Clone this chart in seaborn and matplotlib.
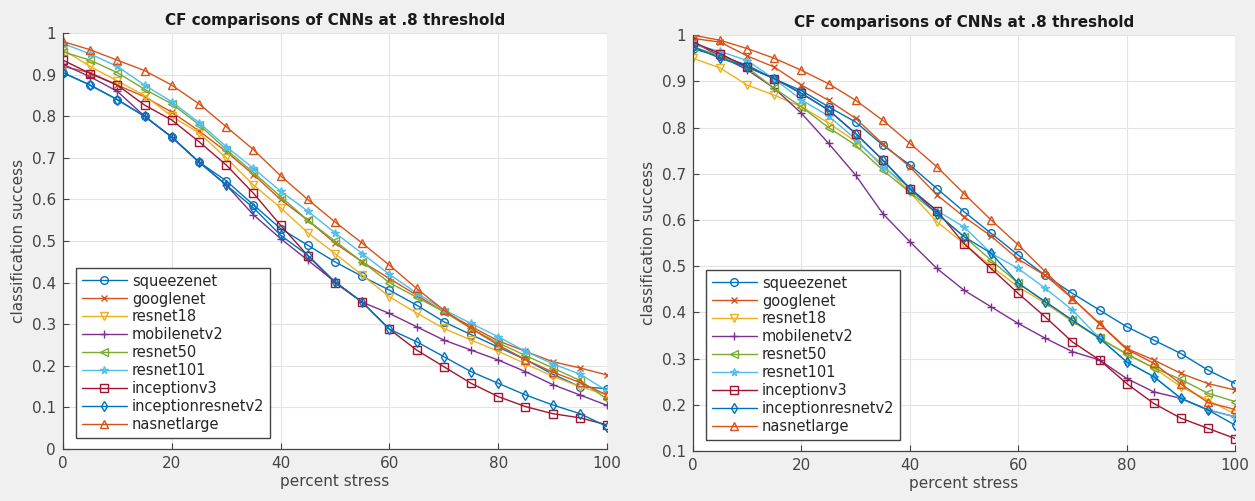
import numpy as np
import pandas as pd
import seaborn as sns
import matplotlib.pyplot as plt
from matplotlib.ticker import FuncFormatter

# percent stress values (x axis)
stress = [0, 5, 10, 15, 20, 25, 30, 35, 40, 45, 50, 55, 60, 65, 70, 75, 80, 85, 90, 95, 100]

nets = ["squeezenet", "googlenet", "resnet18", "mobilenetv2", "resnet50",
        "resnet101", "inceptionv3", "inceptionresnetv2", "nasnetlarge"]

# left panel - classification success
left_squeezenet = [0.905, 0.875, 0.84, 0.80, 0.75, 0.69, 0.645, 0.587, 0.53, 0.49, 0.45, 0.415, 0.382, 0.346, 0.306, 0.275, 0.245, 0.215, 0.18, 0.15, 0.145]
left_googlenet = [0.92, 0.905, 0.875, 0.847, 0.81, 0.765, 0.715, 0.66, 0.60, 0.55, 0.495, 0.45, 0.41, 0.37, 0.33, 0.295, 0.26, 0.235, 0.21, 0.195, 0.178]
left_resnet18 = [0.96, 0.92, 0.885, 0.85, 0.80, 0.76, 0.70, 0.635, 0.58, 0.52, 0.47, 0.418, 0.366, 0.327, 0.29, 0.262, 0.235, 0.205, 0.175, 0.15, 0.13]
left_mobilenetv2 = [0.925, 0.895, 0.86, 0.80, 0.75, 0.69, 0.635, 0.563, 0.506, 0.454, 0.402, 0.353, 0.326, 0.294, 0.262, 0.238, 0.214, 0.186, 0.155, 0.13, 0.105]
left_resnet50 = [0.955, 0.935, 0.905, 0.865, 0.83, 0.78, 0.72, 0.665, 0.607, 0.55, 0.50, 0.45, 0.40, 0.365, 0.33, 0.29, 0.255, 0.225, 0.195, 0.165, 0.12]
left_resnet101 = [0.975, 0.95, 0.92, 0.875, 0.835, 0.785, 0.727, 0.675, 0.62, 0.572, 0.52, 0.47, 0.42, 0.375, 0.335, 0.302, 0.27, 0.235, 0.205, 0.18, 0.14]
left_inceptionv3 = [0.935, 0.903, 0.875, 0.827, 0.791, 0.739, 0.683, 0.615, 0.538, 0.465, 0.40, 0.353, 0.288, 0.238, 0.198, 0.158, 0.126, 0.102, 0.085, 0.075, 0.058]
left_inceptionresnetv2 = [0.905, 0.875, 0.84, 0.80, 0.75, 0.69, 0.635, 0.58, 0.514, 0.466, 0.402, 0.353, 0.288, 0.258, 0.222, 0.186, 0.158, 0.13, 0.106, 0.085, 0.054]
left_nasnetlarge = [0.98, 0.96, 0.935, 0.91, 0.875, 0.83, 0.775, 0.72, 0.657, 0.60, 0.546, 0.495, 0.442, 0.386, 0.334, 0.29, 0.25, 0.215, 0.185, 0.16, 0.13]

# right panel - classification success
right_squeezenet = [0.97, 0.955, 0.935, 0.905, 0.88, 0.845, 0.812, 0.762, 0.719, 0.668, 0.618, 0.571, 0.524, 0.48, 0.441, 0.405, 0.369, 0.34, 0.311, 0.275, 0.246]
right_googlenet = [0.993, 0.985, 0.955, 0.931, 0.892, 0.859, 0.82, 0.765, 0.715, 0.654, 0.607, 0.565, 0.515, 0.48, 0.43, 0.376, 0.322, 0.297, 0.268, 0.246, 0.232]
right_resnet18 = [0.95, 0.929, 0.892, 0.87, 0.845, 0.81, 0.77, 0.72, 0.66, 0.596, 0.549, 0.50, 0.455, 0.42, 0.38, 0.344, 0.31, 0.28, 0.239, 0.21, 0.18]
right_mobilenetv2 = [0.985, 0.955, 0.925, 0.885, 0.831, 0.766, 0.697, 0.614, 0.553, 0.495, 0.448, 0.412, 0.376, 0.344, 0.315, 0.297, 0.257, 0.228, 0.214, 0.189, 0.174]
right_resnet50 = [0.975, 0.955, 0.93, 0.885, 0.845, 0.80, 0.762, 0.708, 0.66, 0.614, 0.564, 0.513, 0.463, 0.423, 0.383, 0.344, 0.31, 0.28, 0.255, 0.225, 0.207]
right_resnet101 = [0.98, 0.965, 0.945, 0.905, 0.86, 0.825, 0.775, 0.715, 0.67, 0.62, 0.585, 0.528, 0.495, 0.452, 0.405, 0.344, 0.293, 0.261, 0.214, 0.189, 0.174]
right_inceptionv3 = [0.985, 0.96, 0.931, 0.906, 0.874, 0.838, 0.787, 0.73, 0.668, 0.62, 0.549, 0.495, 0.441, 0.39, 0.336, 0.297, 0.246, 0.203, 0.171, 0.149, 0.127]
right_inceptionresnetv2 = [0.975, 0.95, 0.931, 0.906, 0.874, 0.838, 0.787, 0.73, 0.668, 0.614, 0.564, 0.528, 0.463, 0.423, 0.383, 0.344, 0.293, 0.261, 0.214, 0.189, 0.156]
right_nasnetlarge = [1.0, 0.989, 0.971, 0.95, 0.924, 0.895, 0.859, 0.816, 0.766, 0.715, 0.657, 0.60, 0.546, 0.488, 0.43, 0.375, 0.32, 0.29, 0.245, 0.205, 0.19]

left_vals = [left_squeezenet, left_googlenet, left_resnet18, left_mobilenetv2, left_resnet50,
             left_resnet101, left_inceptionv3, left_inceptionresnetv2, left_nasnetlarge]
right_vals = [right_squeezenet, right_googlenet, right_resnet18, right_mobilenetv2, right_resnet50,
              right_resnet101, right_inceptionv3, right_inceptionresnetv2, right_nasnetlarge]

# matlab default colour order, wraps after 7
colors = ["#0072BD", "#D95319", "#EDB120", "#7E2F8E", "#77AC30",
          "#4DBEEE", "#A2142F", "#0072BD", "#D95319"]
markers = ["o", "x", "v", "+", "<", "*", "s", "d", "^"]
msizes = [5.5, 4.5, 5.5, 6, 5.5, 5.5, 5.5, 5.5, 6]

sns.set_style("whitegrid")
plt.rcParams['font.family'] = ['DejaVu Sans']

fig = plt.figure(figsize=(12.55, 5.01), dpi=100)
fig.patch.set_facecolor("#f0f0f0")

ax1 = fig.add_axes([0.0502, 0.1038, 0.4335, 0.830])
ax2 = fig.add_axes([0.5522, 0.0998, 0.4319, 0.830])


def draw(ax, vals, ylo):
    for name, v, c, m, ms in zip(nets, vals, colors, markers, msizes):
        df = pd.DataFrame({"stress": stress, "success": v})
        sns.lineplot(data=df, x="stress", y="success", ax=ax, color=c, marker=m,
                     markersize=ms, markerfacecolor="none", markeredgecolor=c,
                     markeredgewidth=1.0, linewidth=1.0, label=name)
    ax.set_xlim(0, 100)
    ax.set_ylim(ylo, 1)
    ax.set_xticks([0, 20, 40, 60, 80, 100])
    ax.set_yticks(np.round(np.arange(ylo, 1.001, 0.1), 1))
    ax.yaxis.set_major_formatter(FuncFormatter(lambda y, p: "%g" % round(y, 1)))
    ax.grid(True, color="#e3e3e3", linewidth=0.8)
    for s in ["top", "right"]:
        ax.spines[s].set_visible(False)
    for s in ["left", "bottom"]:
        ax.spines[s].set_color("#444444")
        ax.spines[s].set_linewidth(0.9)
    ax.tick_params(direction="in", length=4, color="#444444", labelsize=11,
                   labelcolor="#444444", left=True, bottom=True, pad=5)
    ax.set_xlabel("percent stress", fontsize=11, color="#444444", labelpad=2)
    ax.set_ylabel("classification success", fontsize=11, color="#444444", labelpad=4)
    ax.set_title("CF comparisons of CNNs at .8 threshold", fontsize=11,
                 fontweight="bold", color="#1a1a1a", pad=6)
    leg = ax.legend(loc="lower left", bbox_to_anchor=(0.018, 0.02), fontsize=10.5,
                    frameon=True, fancybox=False, edgecolor="#444444",
                    handlelength=3.1, labelspacing=0.2, borderpad=0.4,
                    handletextpad=0.35, borderaxespad=0.2)
    leg.get_frame().set_linewidth(1.0)
    leg.get_frame().set_facecolor("white")
    leg.get_frame().set_alpha(1.0)


draw(ax1, left_vals, 0.0)
draw(ax2, right_vals, 0.1)

fig.savefig("out.png", dpi=100, facecolor=fig.get_facecolor())
